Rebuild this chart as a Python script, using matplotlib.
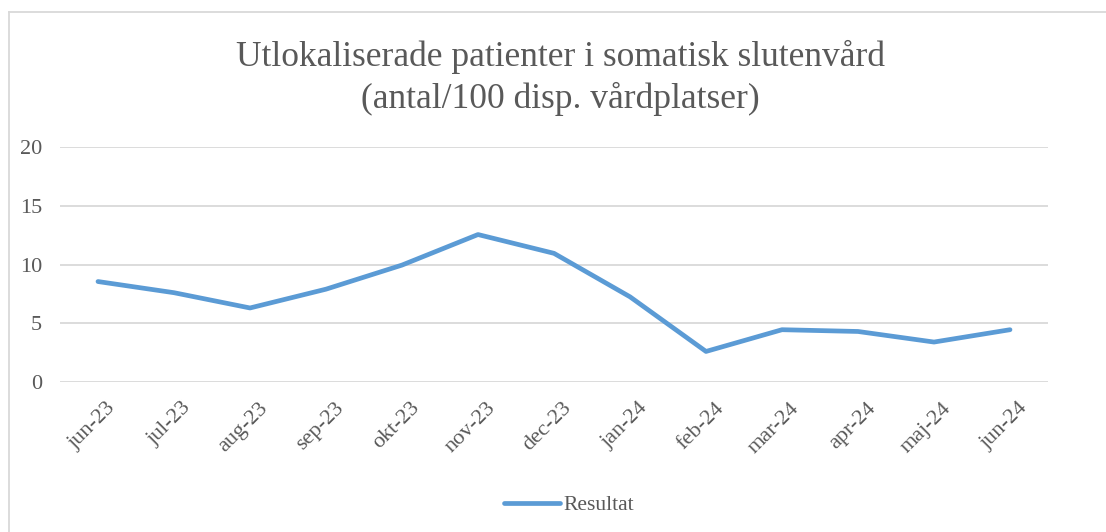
import matplotlib
matplotlib.use("Agg")
import matplotlib.pyplot as plt
from matplotlib.lines import Line2D
import matplotlib.transforms as mtrans

months = ["jun-23", "jul-23", "aug-23", "sep-23", "okt-23", "nov-23", "dec-23",
          "jan-24", "feb-24", "mar-24", "apr-24", "maj-24", "jun-24"]
resultat = [8.55, 7.6, 6.3, 7.9, 9.95, 12.55, 10.95, 7.25, 2.6, 4.45, 4.3, 3.4, 4.45]
yticks = [0, 5, 10, 15, 20]

W, H = 1106, 532
fig = plt.figure(figsize=(W / 100, H / 100), dpi=100)
fig.patch.set_facecolor("white")
plt.rcParams['font.family'] = ['Liberation Serif', 'DejaVu Serif']

gray = "#595959"
blue = "#5B9BD5"
ax = fig.add_axes([60 / W, (H - 382) / H, (1048 - 60) / W, (382 - 147) / H])
x = list(range(len(months)))
ax.plot(x, resultat, color=blue, lw=3.4, solid_capstyle="round",
        solid_joinstyle="round", label="Resultat", zorder=3)
ax.set_xlim(-0.5, len(months) - 0.5)
ax.set_ylim(0, 20)
ax.set_yticks(yticks)
ax.set_yticklabels([str(v) for v in yticks])
ax.set_xticks(x)
ax.set_xticklabels(months, rotation=45, ha="right", va="top", rotation_mode="anchor")
ax.tick_params(axis="both", length=0, colors=gray, labelsize=16)
ax.tick_params(axis="y", pad=13)
ax.tick_params(axis="x", pad=12)
ax.grid(axis="y", color="#D9D9D9", lw=1.3)
ax.set_axisbelow(True)
for s in ax.spines.values():
    s.set_visible(False)

offset = mtrans.ScaledTranslation(8 / 100, 0, fig.dpi_scale_trans)
for lbl in ax.get_xticklabels():
    lbl.set_transform(lbl.get_transform() + offset)

fig.text(560 / W, (H - 78) / H, "Utlokaliserade patienter i somatisk slutenvård\n(antal/100 disp. vårdplatser)",
         ha="center", va="center", fontsize=25.5, color=gray, linespacing=1.32)

leg = fig.legend(handles=[Line2D([0], [0], color=blue, lw=3.4, solid_capstyle="round")],
                 labels=["Resultat"], loc="center", bbox_to_anchor=(569 / W, (H - 505) / H),
                 frameon=False, fontsize=15.5, handlelength=2.6, handletextpad=0.15)
for t in leg.get_texts():
    t.set_color(gray)

# outer border (left and top)
fig.add_artist(Line2D([8.5 / W, 8.5 / W], [0, (H - 12) / H], color="#D9D9D9", lw=1.3, transform=fig.transFigure))
fig.add_artist(Line2D([8.5 / W, 1], [(H - 12) / H, (H - 12) / H], color="#D9D9D9", lw=1.3, transform=fig.transFigure))

fig.savefig("out.png", dpi=100, facecolor="white")
